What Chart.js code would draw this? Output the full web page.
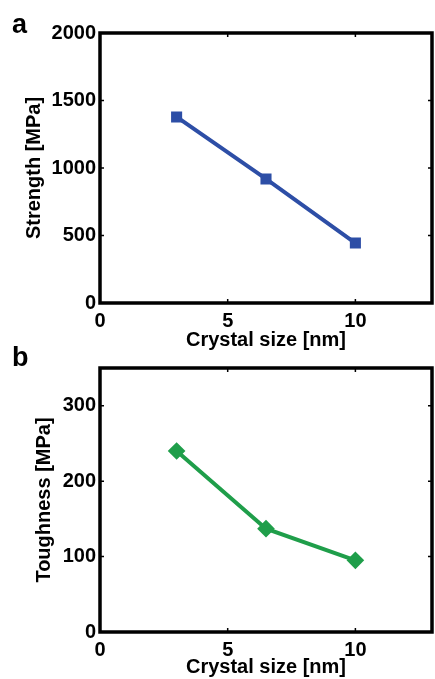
<!DOCTYPE html>
<html>
<head>
<meta charset="utf-8">
<script src="https://cdn.jsdelivr.net/npm/chart.js@4"></script>
<style>
  body { margin: 0; background: #fff; width: 435px; height: 679px; position: relative; overflow: hidden; }
  .panel { position: absolute; left: 0; width: 435px; }
  .tag { position: absolute; font: bold 27px "Liberation Sans", Arial, sans-serif; color: #000; }
</style>
</head>
<body>
<div class="panel" style="top:0;height:352px"><canvas id="strengthChart"></canvas></div>
<div class="panel" style="top:340px;height:339px"><canvas id="toughnessChart"></canvas></div>
<div class="tag" style="left:12px;top:9px">a</div>
<div class="tag" style="left:12px;top:342px">b</div>
<script>
const crystalSize = [3, 6.5, 10];
const strength = [1378, 919, 444];
const toughness = [240, 137, 95];
const xTicks = [0, 5, 10];
const strengthTicks = [0, 500, 1000, 1500, 2000];
const toughnessTicks = [0, 100, 200, 300];

Chart.defaults.font.family = "'Liberation Sans', Arial, sans-serif";
Chart.defaults.font.weight = "bold";
Chart.defaults.font.size = 20;
Chart.defaults.color = "#000";

// box around the plot with small inward ticks, like the matlab frame
const framePlugin = {
  id: "frame",
  afterDraw(chart) {
    const { ctx, chartArea: a, scales } = chart;
    ctx.save();
    ctx.strokeStyle = "#000";
    ctx.lineWidth = 1.5;
    scales.x.ticks.forEach(t => {
      const px = scales.x.getPixelForValue(t.value);
      ctx.beginPath();
      ctx.moveTo(px, a.bottom); ctx.lineTo(px, a.bottom - 4);
      ctx.moveTo(px, a.top); ctx.lineTo(px, a.top + 4);
      ctx.stroke();
    });
    scales.y.ticks.forEach(t => {
      const py = scales.y.getPixelForValue(t.value);
      ctx.beginPath();
      ctx.moveTo(a.left, py); ctx.lineTo(a.left + 4, py);
      ctx.moveTo(a.right, py); ctx.lineTo(a.right - 4, py);
      ctx.stroke();
    });
    ctx.lineWidth = 3.5;
    ctx.strokeRect(a.left, a.top, a.right - a.left, a.bottom - a.top);
    ctx.restore();
  }
};

function makeChart(id, values, yMax, yTicks, yLabel, color, marker, opts) {
  const points = crystalSize.map((x, i) => ({ x, y: values[i] }));
  return new Chart(document.getElementById(id), {
    type: "line",
    data: {
      datasets: [{
        data: points,
        borderColor: color,
        backgroundColor: color,
        borderWidth: 4,
        pointStyle: marker,
        pointRadius: opts.pointRadius,
        pointHoverRadius: opts.pointRadius,
      }]
    },
    options: {
      responsive: true,
      maintainAspectRatio: false,
      animation: false,
      layout: { autoPadding: false, padding: { top: opts.top, right: 3, left: 0, bottom: 0 } },
      plugins: { legend: { display: false }, tooltip: { enabled: false } },
      scales: {
        x: {
          type: "linear",
          min: 0, max: 13,
          afterBuildTicks: s => { s.ticks = xTicks.map(v => ({ value: v })); },
          afterFit: s => { s.height = opts.xHeight; },
          grid: { display: false, drawTicks: false },
          border: { display: false },
          ticks: { padding: 6, callback: v => String(v) },
          title: { display: true, text: "Crystal size [nm]", padding: 0 }
        },
        y: {
          min: 0, max: yMax,
          afterBuildTicks: s => { s.ticks = yTicks.map(v => ({ value: v })); },
          afterFit: s => { s.width = 100; },
          grid: { display: false, drawTicks: false },
          border: { display: false },
          ticks: { padding: 4, callback: v => String(v) },
          title: { display: true, text: yLabel, padding: { top: opts.yTitlePad, bottom: 0 } }
        }
      }
    },
    plugins: [framePlugin]
  });
}

makeChart("strengthChart", strength, 2000, strengthTicks, "Strength [MPa]", "#2d4ea6", "rect",
  { top: 33, xHeight: 49, yTitlePad: 22, pointRadius: 5 });
makeChart("toughnessChart", toughness, 350, toughnessTicks, "Toughness [MPa]", "#1f9e4a", "rectRot",
  { top: 28, xHeight: 47, yTitlePad: 32, pointRadius: 6 });
</script>
</body>
</html>
